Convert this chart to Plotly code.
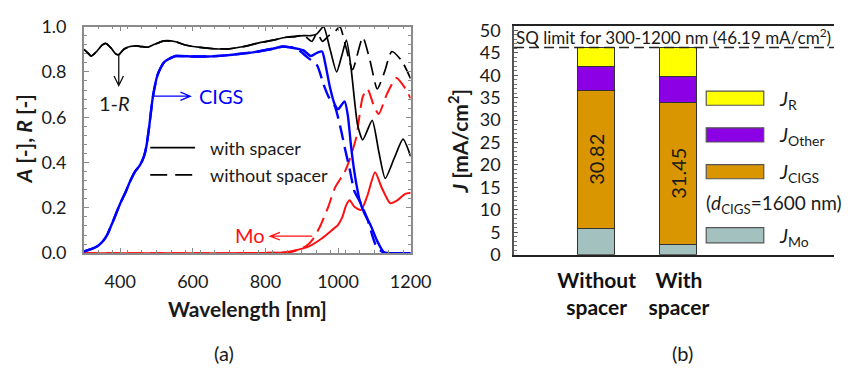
import plotly.graph_objects as go

# ---------------- panel (a): spectra ----------------
# 1-R, identical for both stacks below ~860 nm
wl_r_common = [300, 310, 320, 335, 350, 360, 375, 387, 396, 410, 427, 445, 458, 476, 495,
               521, 553, 579, 620, 660, 700, 740, 776, 821, 857]
r_common = [0.900, 0.885, 0.870, 0.890, 0.918, 0.926, 0.905, 0.880, 0.876, 0.900, 0.912,
            0.915, 0.912, 0.909, 0.922, 0.937, 0.933, 0.919, 0.908, 0.902, 0.902, 0.912,
            0.926, 0.940, 0.953]
wl_r_with = [880, 905, 925, 942, 960, 978, 996, 1010, 1023, 1036, 1045, 1054, 1068, 1094,
             1112, 1130, 1155, 1179, 1200]
r_with = [0.957, 0.960, 0.960, 0.968, 1.000, 0.900, 0.800, 0.870, 0.940, 0.815, 0.680,
          0.565, 0.500, 0.586, 0.450, 0.330, 0.420, 0.503, 0.427]
wl_r_without = [880, 905, 928, 942, 957, 975, 990, 1005, 1020, 1040, 1068, 1088, 1108,
                1128, 1148, 1175, 1200]
r_without = [0.955, 0.962, 0.935, 0.972, 0.935, 0.960, 0.975, 1.000, 0.920, 0.810, 0.953,
             0.850, 0.725, 0.800, 0.890, 0.850, 0.770]

# absorptance in CIGS
wl_cigs_common = [300, 320, 338, 352, 364, 380, 400, 415, 427, 440, 454, 465, 472, 480, 490,
                  503, 521, 540, 553, 600, 642, 690, 732, 780, 820, 848, 870]
cigs_common = [0.008, 0.018, 0.032, 0.052, 0.080, 0.140, 0.219, 0.270, 0.316, 0.358, 0.387,
               0.425, 0.470, 0.560, 0.690, 0.787, 0.843, 0.862, 0.870, 0.868, 0.868, 0.873,
               0.880, 0.890, 0.902, 0.912, 0.908]
wl_cigs_with = [890, 905, 925, 942, 956, 964, 978, 991, 1000, 1018, 1027, 1036, 1045, 1054,
                1060, 1072, 1090, 1108, 1126, 1140, 1200]
cigs_with = [0.902, 0.895, 0.870, 0.884, 0.890, 0.843, 0.730, 0.656, 0.635, 0.670, 0.607,
             0.469, 0.358, 0.274, 0.230, 0.178, 0.122, 0.053, 0.004, 0.0, 0.0]
wl_cigs_without = [883, 897, 915, 942, 960, 974, 991, 1009, 1018, 1032, 1045, 1063, 1081,
                   1094, 1103, 1117, 1130, 1200]
cigs_without = [0.906, 0.890, 0.865, 0.830, 0.745, 0.690, 0.650, 0.538, 0.469, 0.371, 0.274,
                0.219, 0.150, 0.080, 0.039, 0.011, 0.0, 0.0]

# absorptance in Mo back contact
wl_mo_common = [300, 500, 700, 800, 850]
mo_common = [0.0, 0.0, 0.0, 0.001, 0.003]
wl_mo_with = [875, 920, 956, 982, 1000, 1012, 1022, 1032, 1045, 1063, 1080, 1102, 1120,
              1144, 1165, 1185, 1200]
mo_with = [0.010, 0.030, 0.066, 0.100, 0.125, 0.160, 0.210, 0.233, 0.205, 0.190, 0.250,
           0.357, 0.290, 0.220, 0.235, 0.262, 0.267]
wl_mo_without = [870, 890, 911, 930, 951, 972, 992, 1018, 1032, 1050, 1068, 1081, 1099,
                 1112, 1135, 1161, 1184, 1200]
mo_without = [0.005, 0.015, 0.030, 0.060, 0.120, 0.200, 0.290, 0.357, 0.413, 0.510, 0.690,
              0.725, 0.649, 0.614, 0.704, 0.773, 0.730, 0.683]

# ---------------- panel (b): current densities ----------------
structures = ["<b>Without</b><br><b>spacer</b>", "<b>With</b><br><b>spacer</b>"]
j_mo = [5.8, 2.3]
j_cigs = [30.82, 31.45]
j_other = [5.3, 5.85]
j_r = [4.27, 6.59]
sq_limit = 46.19

FONT = "Lato, 'Open Sans', sans-serif"
TXT = "#1a1a1a"
BLUE = "#0000ff"
RED = "#ff1010"
fig = go.Figure()


def spectrum(x, y, color, width, dash):
    fig.add_trace(go.Scatter(x=x, y=y, mode="lines", xaxis="x", yaxis="y",
                             line=dict(color=color, width=width, dash=dash,
                                       shape="spline", smoothing=0.6),
                             hoverinfo="skip"))


spectrum(wl_mo_common + wl_mo_without, mo_common + mo_without, RED, 2, "15px,7px")
spectrum(wl_mo_common + wl_mo_with, mo_common + mo_with, RED, 2, "solid")
spectrum(wl_cigs_common + wl_cigs_without, cigs_common + cigs_without, BLUE, 2.4, "15px,7px")
spectrum(wl_cigs_common + wl_cigs_with, cigs_common + cigs_with, BLUE, 2.4, "solid")
spectrum(wl_r_common + wl_r_without, r_common + r_without, "#000000", 1.7, "15px,7px")
spectrum(wl_r_common + wl_r_with, r_common + r_with, "#000000", 1.7, "solid")

# stacked bars
x_pos = [0, 1]
bar_line = dict(color="#333333", width=1.2)
fig.add_trace(go.Bar(x=x_pos, y=j_mo, width=0.45, marker=dict(color="#a3c2bf", line=bar_line),
                     xaxis="x2", yaxis="y2", hoverinfo="skip"))
fig.add_trace(go.Bar(x=x_pos, y=j_cigs, width=0.45, marker=dict(color="#d99600", line=bar_line),
                     text=[f"{v:.2f}" for v in j_cigs], textposition="inside",
                     insidetextanchor="middle", textangle=-90,
                     textfont=dict(size=20, color=TXT, family=FONT),
                     xaxis="x2", yaxis="y2", hoverinfo="skip"))
fig.add_trace(go.Bar(x=x_pos, y=j_other, width=0.45, marker=dict(color="#8c00e6", line=bar_line),
                     xaxis="x2", yaxis="y2", hoverinfo="skip"))
fig.add_trace(go.Bar(x=x_pos, y=j_r, width=0.45, marker=dict(color="#ffff00", line=bar_line),
                     xaxis="x2", yaxis="y2", hoverinfo="skip"))

W, H = 855, 379


def px(x):
    return x / W


def py(y):
    return 1 - y / H


shapes = []
annotations = []


def label(x, y, text, size=20, color=TXT, angle=0, xanchor="center"):
    annotations.append(dict(x=px(x), y=py(y), xref="paper", yref="paper", text=text,
                            showarrow=False, textangle=angle, xanchor=xanchor,
                            yanchor="middle", font=dict(size=size, color=color, family=FONT)))


def arrow(path, color):
    shapes.append(dict(type="path", xref="x", yref="y", path=path,
                       line=dict(color=color, width=1.3)))


# annotations for panel (a)
arrow("M396,0.877 L396,0.74 M383,0.782 L396,0.74 L409,0.782", "#111111")
label(117, 97, "1-<i>R</i>", 20)
arrow("M493,0.693 L593,0.693 M566,0.711 L593,0.693 L566,0.674", BLUE)
label(227, 89, "CIGS", 20, BLUE)
arrow("M929,0.0748 L813,0.0748 M840,0.0915 L813,0.0748 L840,0.058", RED)
label(256, 237, "Mo", 20, RED)
shapes.append(dict(type="line", xref="paper", yref="paper", x0=px(154), x1=px(200),
                   y0=py(144), y1=py(144), line=dict(color="#000", width=1.7)))
shapes.append(dict(type="line", xref="paper", yref="paper", x0=px(154), x1=px(200),
                   y0=py(173), y1=py(173), line=dict(color="#000", width=1.7, dash="17px,8px")))
label(213, 144, "with spacer", 18, xanchor="left")
label(213, 173, "without spacer", 18, xanchor="left")

# panel (b): SQ limit line and legend
shapes.append(dict(type="line", xref="x2 domain", yref="y2", x0=0, x1=1, y0=sq_limit,
                   y1=sq_limit, line=dict(color="#222", width=1.5, dash="10px,5px")))
label(690, 26, "SQ limit for 300-1200 nm (46.19 mA/cm<sup>2</sup>)", 17)
legend_rows = [("#ffff00", 84, 99, "<i>J</i><sub>R</sub>"),
               ("#8c00e6", 123, 138, "<i>J</i><sub>Other</sub>"),
               ("#d99600", 162, 177, "<i>J</i><sub>CIGS</sub>"),
               ("#a3c2bf", 229, 245, "<i>J</i><sub>Mo</sub>")]
for color, y0, y1, txt in legend_rows:
    shapes.append(dict(type="rect", xref="paper", yref="paper", x0=px(724), x1=px(783),
                       y0=py(y1), y1=py(y0), fillcolor=color, line=dict(color="#555", width=1.2)))
    label(797, (y0 + y1) / 2 + 1, txt, 20, xanchor="left")
label(722, 204, "(<i>d</i><sub>CIGS</sub>=1600 nm)", 19, xanchor="left")

# axis titles and panel tags
label(24, 135, "<b><i>A</i> [-], <i>R</i> [-]</b>", 21, angle=-90)
label(253.5, 315, "<b>Wavelength [nm]</b>", 21)
label(470, 137, "<b><i>J</i> [mA/cm<sup>2</sup>]</b>", 21, angle=-90)
label(230, 362, "(a)", 20)
label(700, 362, "(b)", 20)

GRAY = "#8a8a8a"
fig.update_layout(
    width=W, height=H, margin=dict(l=0, r=0, t=0, b=0),
    paper_bgcolor="white", plot_bgcolor="white", showlegend=False,
    barmode="stack", bargap=0,
    font=dict(family=FONT, color=TXT),
    xaxis=dict(domain=[px(86), px(421)], range=[300, 1200], anchor="y",
               tickvals=[400, 600, 800, 1000, 1200], ticks="inside", ticklen=5,
               tickcolor=GRAY, showline=True, linecolor=GRAY, linewidth=1.5, mirror="allticks",
               minor=dict(tick0=300, dtick=40, ticks="inside", ticklen=3, tickcolor=GRAY),
               showgrid=False, zeroline=False, tickfont=dict(size=18, family=FONT, color=TXT),
               ticklabelstandoff=12),
    yaxis=dict(domain=[py(256), py(15.5)], range=[0, 1], anchor="x", dtick=0.2,
               tickformat=".1f", ticks="inside", ticklen=5, tickcolor=GRAY, showline=True,
               linecolor=GRAY, linewidth=1.5, mirror="allticks",
               minor=dict(dtick=0.04, ticks="inside", ticklen=3, tickcolor=GRAY),
               showgrid=False, zeroline=False, tickfont=dict(size=18, family=FONT, color=TXT),
               ticklabelstandoff=12),
    xaxis2=dict(domain=[px(527), 1.0], range=[-1.005, 2.886], anchor="y2",
                tickvals=x_pos, ticktext=structures, ticks="", showline=True,
                linecolor="#222", linewidth=1.8, mirror=True, showgrid=False, zeroline=False,
                tickfont=dict(size=21, family=FONT, color="#111"), ticklabelstandoff=6),
    yaxis2=dict(domain=[py(257.7), py(14.7)], range=[0, 51], anchor="x2", dtick=5,
                ticks="inside", ticklen=4, tickcolor="#555", showline=True, linecolor="#555",
                linewidth=1.5, minor=dict(dtick=1, ticks="inside", ticklen=3, tickcolor="#777"),
                showgrid=False, zeroline=False, tickfont=dict(size=18, family=FONT, color=TXT),
                ticklabelstandoff=8),
    shapes=shapes, annotations=annotations,
)

fig.write_html("out.html")
